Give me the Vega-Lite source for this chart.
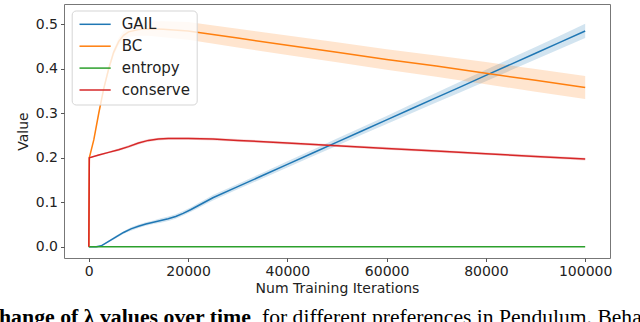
{
  "$schema": "https://vega.github.io/schema/vega-lite/v6.json",
  "width": 546,
  "height": 254,
  "autosize": {"type": "none"},
  "padding": {"left": 64, "top": 4, "right": 30, "bottom": 64},
  "background": "white",
  "config": {
    "font": "DejaVu Sans",
    "view": {"stroke": "#777", "strokeWidth": 1},
    "axis": {
      "grid": false,
      "domain": false,
      "tickColor": "#555",
      "tickSize": 3.5,
      "labelFontSize": 14,
      "labelColor": "#222",
      "titleFontSize": 14,
      "titleFontWeight": "normal",
      "titleColor": "#222",
      "labelPadding": 3
    }
  },
  "datasets": {
    "series": [
      {"s": "GAIL", "x": 0, "y": 0, "lo": 0, "hi": 0},
      {"s": "GAIL", "x": 1500, "y": 0, "lo": 0, "hi": 0},
      {"s": "GAIL", "x": 2500, "y": 0.002, "lo": 0.001, "hi": 0.003},
      {"s": "GAIL", "x": 4000, "y": 0.012, "lo": 0.010, "hi": 0.014},
      {"s": "GAIL", "x": 5500, "y": 0.022, "lo": 0.019, "hi": 0.025},
      {"s": "GAIL", "x": 7000, "y": 0.032, "lo": 0.029, "hi": 0.035},
      {"s": "GAIL", "x": 8500, "y": 0.040, "lo": 0.036, "hi": 0.044},
      {"s": "GAIL", "x": 10000, "y": 0.046, "lo": 0.042, "hi": 0.050},
      {"s": "GAIL", "x": 11500, "y": 0.051, "lo": 0.047, "hi": 0.055},
      {"s": "GAIL", "x": 13000, "y": 0.055, "lo": 0.051, "hi": 0.059},
      {"s": "GAIL", "x": 14500, "y": 0.059, "lo": 0.054, "hi": 0.064},
      {"s": "GAIL", "x": 16000, "y": 0.063, "lo": 0.058, "hi": 0.068},
      {"s": "GAIL", "x": 17500, "y": 0.068, "lo": 0.063, "hi": 0.073},
      {"s": "GAIL", "x": 19000, "y": 0.075, "lo": 0.070, "hi": 0.080},
      {"s": "GAIL", "x": 20500, "y": 0.083, "lo": 0.078, "hi": 0.088},
      {"s": "GAIL", "x": 22000, "y": 0.092, "lo": 0.0865, "hi": 0.0975},
      {"s": "GAIL", "x": 23500, "y": 0.101, "lo": 0.0955, "hi": 0.1065},
      {"s": "GAIL", "x": 25000, "y": 0.110, "lo": 0.104, "hi": 0.116},
      {"s": "GAIL", "x": 30000, "y": 0.135, "lo": 0.129, "hi": 0.141},
      {"s": "GAIL", "x": 35000, "y": 0.160, "lo": 0.1535, "hi": 0.1665},
      {"s": "GAIL", "x": 40000, "y": 0.185, "lo": 0.178, "hi": 0.192},
      {"s": "GAIL", "x": 45000, "y": 0.210, "lo": 0.2025, "hi": 0.2175},
      {"s": "GAIL", "x": 50000, "y": 0.235, "lo": 0.227, "hi": 0.243},
      {"s": "GAIL", "x": 55000, "y": 0.260, "lo": 0.2515, "hi": 0.2685},
      {"s": "GAIL", "x": 60000, "y": 0.285, "lo": 0.276, "hi": 0.294},
      {"s": "GAIL", "x": 65000, "y": 0.310, "lo": 0.300, "hi": 0.320},
      {"s": "GAIL", "x": 70000, "y": 0.335, "lo": 0.324, "hi": 0.346},
      {"s": "GAIL", "x": 75000, "y": 0.360, "lo": 0.348, "hi": 0.372},
      {"s": "GAIL", "x": 80000, "y": 0.385, "lo": 0.372, "hi": 0.398},
      {"s": "GAIL", "x": 85000, "y": 0.410, "lo": 0.3965, "hi": 0.4235},
      {"s": "GAIL", "x": 90000, "y": 0.435, "lo": 0.421, "hi": 0.449},
      {"s": "GAIL", "x": 95000, "y": 0.460, "lo": 0.445, "hi": 0.475},
      {"s": "GAIL", "x": 100000, "y": 0.485, "lo": 0.469, "hi": 0.501},
      {"s": "BC", "x": 0, "y": 0, "lo": 0, "hi": 0},
      {"s": "BC", "x": 100, "y": 0.2, "lo": 0.2, "hi": 0.2},
      {"s": "BC", "x": 1000, "y": 0.24, "lo": 0.238, "hi": 0.242},
      {"s": "BC", "x": 2000, "y": 0.3, "lo": 0.297, "hi": 0.303},
      {"s": "BC", "x": 3000, "y": 0.355, "lo": 0.35, "hi": 0.36},
      {"s": "BC", "x": 4000, "y": 0.4, "lo": 0.394, "hi": 0.406},
      {"s": "BC", "x": 5000, "y": 0.437, "lo": 0.43, "hi": 0.444},
      {"s": "BC", "x": 6000, "y": 0.461, "lo": 0.453, "hi": 0.469},
      {"s": "BC", "x": 7000, "y": 0.475, "lo": 0.465, "hi": 0.485},
      {"s": "BC", "x": 8000, "y": 0.483, "lo": 0.472, "hi": 0.494},
      {"s": "BC", "x": 10000, "y": 0.488, "lo": 0.474, "hi": 0.502},
      {"s": "BC", "x": 12000, "y": 0.49, "lo": 0.474, "hi": 0.506},
      {"s": "BC", "x": 15000, "y": 0.489, "lo": 0.471, "hi": 0.507},
      {"s": "BC", "x": 20000, "y": 0.485, "lo": 0.465, "hi": 0.505},
      {"s": "BC", "x": 30000, "y": 0.469, "lo": 0.448, "hi": 0.49},
      {"s": "BC", "x": 40000, "y": 0.453, "lo": 0.431, "hi": 0.475},
      {"s": "BC", "x": 50000, "y": 0.437, "lo": 0.4145, "hi": 0.4595},
      {"s": "BC", "x": 60000, "y": 0.421, "lo": 0.398, "hi": 0.444},
      {"s": "BC", "x": 70000, "y": 0.406, "lo": 0.382, "hi": 0.43},
      {"s": "BC", "x": 80000, "y": 0.39, "lo": 0.365, "hi": 0.415},
      {"s": "BC", "x": 90000, "y": 0.374, "lo": 0.3485, "hi": 0.3995},
      {"s": "BC", "x": 100000, "y": 0.358, "lo": 0.332, "hi": 0.384},
      {"s": "entropy", "x": 0, "y": 0, "lo": 0, "hi": 0},
      {"s": "entropy", "x": 100000, "y": 0, "lo": 0, "hi": 0},
      {"s": "conserve", "x": 0, "y": 0, "lo": 0, "hi": 0},
      {"s": "conserve", "x": 100, "y": 0.2, "lo": 0.199, "hi": 0.201},
      {"s": "conserve", "x": 2000, "y": 0.206, "lo": 0.204, "hi": 0.208},
      {"s": "conserve", "x": 4000, "y": 0.212, "lo": 0.21, "hi": 0.214},
      {"s": "conserve", "x": 6000, "y": 0.218, "lo": 0.215, "hi": 0.221},
      {"s": "conserve", "x": 8000, "y": 0.225, "lo": 0.222, "hi": 0.228},
      {"s": "conserve", "x": 10000, "y": 0.233, "lo": 0.23, "hi": 0.236},
      {"s": "conserve", "x": 12000, "y": 0.239, "lo": 0.236, "hi": 0.242},
      {"s": "conserve", "x": 14000, "y": 0.242, "lo": 0.239, "hi": 0.245},
      {"s": "conserve", "x": 16000, "y": 0.2435, "lo": 0.2405, "hi": 0.2465},
      {"s": "conserve", "x": 20000, "y": 0.2435, "lo": 0.2405, "hi": 0.2465},
      {"s": "conserve", "x": 25000, "y": 0.242, "lo": 0.239, "hi": 0.245},
      {"s": "conserve", "x": 30000, "y": 0.239, "lo": 0.236, "hi": 0.242},
      {"s": "conserve", "x": 40000, "y": 0.233, "lo": 0.23, "hi": 0.236},
      {"s": "conserve", "x": 50000, "y": 0.227, "lo": 0.224, "hi": 0.23},
      {"s": "conserve", "x": 60000, "y": 0.221, "lo": 0.218, "hi": 0.224},
      {"s": "conserve", "x": 70000, "y": 0.215, "lo": 0.212, "hi": 0.218},
      {"s": "conserve", "x": 80000, "y": 0.209, "lo": 0.206, "hi": 0.212},
      {"s": "conserve", "x": 90000, "y": 0.203, "lo": 0.2, "hi": 0.206},
      {"s": "conserve", "x": 100000, "y": 0.197, "lo": 0.194, "hi": 0.2}
    ],
    "captionBold": [{"t": "hange of λ values over time"}],
    "captionNormal": [{"t": "for different preferences in Pendulum. Beha"}]
  },
  "layer": [
    {
      "data": {"name": "series"},
      "transform": [{"filter": "datum.s === 'GAIL'"}],
      "mark": {"type": "area", "opacity": 0.2, "color": "#1f77b4"},
      "encoding": {
        "x": {
          "field": "x",
          "type": "quantitative",
          "scale": {"domain": [-5000, 105000], "nice": false, "zero": false},
          "axis": {
            "values": [0, 20000, 40000, 60000, 80000, 100000],
            "format": "d",
            "labelFlush": false,
            "title": "Num Training Iterations",
            "titleY": 34,
            "titleBaseline": "alphabetic"
          }
        },
        "y": {
          "field": "lo",
          "type": "quantitative",
          "scale": {"domain": [-0.0254, 0.5456], "nice": false, "zero": false},
          "axis": {
            "values": [0, 0.1, 0.2, 0.3, 0.4, 0.5],
            "format": ".1f",
            "title": "Value",
            "titleX": -41,
            "titleY": 127,
            "titleAngle": -90,
            "titleAlign": "center",
            "titleBaseline": "middle"
          }
        },
        "y2": {"field": "hi"}
      }
    },
    {
      "data": {"name": "series"},
      "transform": [{"filter": "datum.s === 'BC'"}],
      "mark": {"type": "area", "opacity": 0.2, "color": "#ff7f0e"},
      "encoding": {
        "x": {"field": "x", "type": "quantitative"},
        "y": {"field": "lo", "type": "quantitative"},
        "y2": {"field": "hi"}
      }
    },
    {
      "data": {"name": "series"},
      "transform": [{"filter": "datum.s === 'conserve'"}],
      "mark": {"type": "area", "opacity": 0.2, "color": "#d62728"},
      "encoding": {
        "x": {"field": "x", "type": "quantitative"},
        "y": {"field": "lo", "type": "quantitative"},
        "y2": {"field": "hi"}
      }
    },
    {
      "data": {"name": "series"},
      "mark": {"type": "line", "strokeWidth": 1.5},
      "encoding": {
        "x": {"field": "x", "type": "quantitative"},
        "y": {"field": "y", "type": "quantitative"},
        "color": {
          "field": "s",
          "type": "nominal",
          "sort": null,
          "scale": {
            "domain": ["GAIL", "BC", "entropy", "conserve"],
            "range": ["#1f77b4", "#ff7f0e", "#2ca02c", "#d62728"]
          },
          "legend": {
            "title": null,
            "orient": "none",
            "legendX": 7.7,
            "legendY": 6.5,
            "symbolType": "M-1,0H4.2",
            "symbolSize": 144,
            "symbolStrokeWidth": 1.5,
            "labelFontSize": 15,
            "labelColor": "#222",
            "labelOffset": 28.7,
            "padding": 6.3,
            "rowPadding": 5.9,
            "fillColor": "rgba(255,255,255,0.8)",
            "strokeColor": "#d5d5d5",
            "cornerRadius": 4
          }
        }
      }
    },
    {
      "data": {"name": "captionBold"},
      "mark": {"type": "text", "align": "left", "baseline": "alphabetic", "font": "Liberation Serif", "fontSize": 21.8, "fontWeight": "bold", "color": "#000"},
      "encoding": {
        "x": {"datum": -18095, "type": "quantitative"},
        "y": {"datum": -0.174, "type": "quantitative"},
        "text": {"field": "t"}
      }
    },
    {
      "data": {"name": "captionNormal"},
      "mark": {"type": "text", "align": "left", "baseline": "alphabetic", "font": "Liberation Serif", "fontSize": 21.6, "color": "#000"},
      "encoding": {
        "x": {"datum": 34891, "type": "quantitative"},
        "y": {"datum": -0.174, "type": "quantitative"},
        "text": {"field": "t"}
      }
    }
  ]
}
